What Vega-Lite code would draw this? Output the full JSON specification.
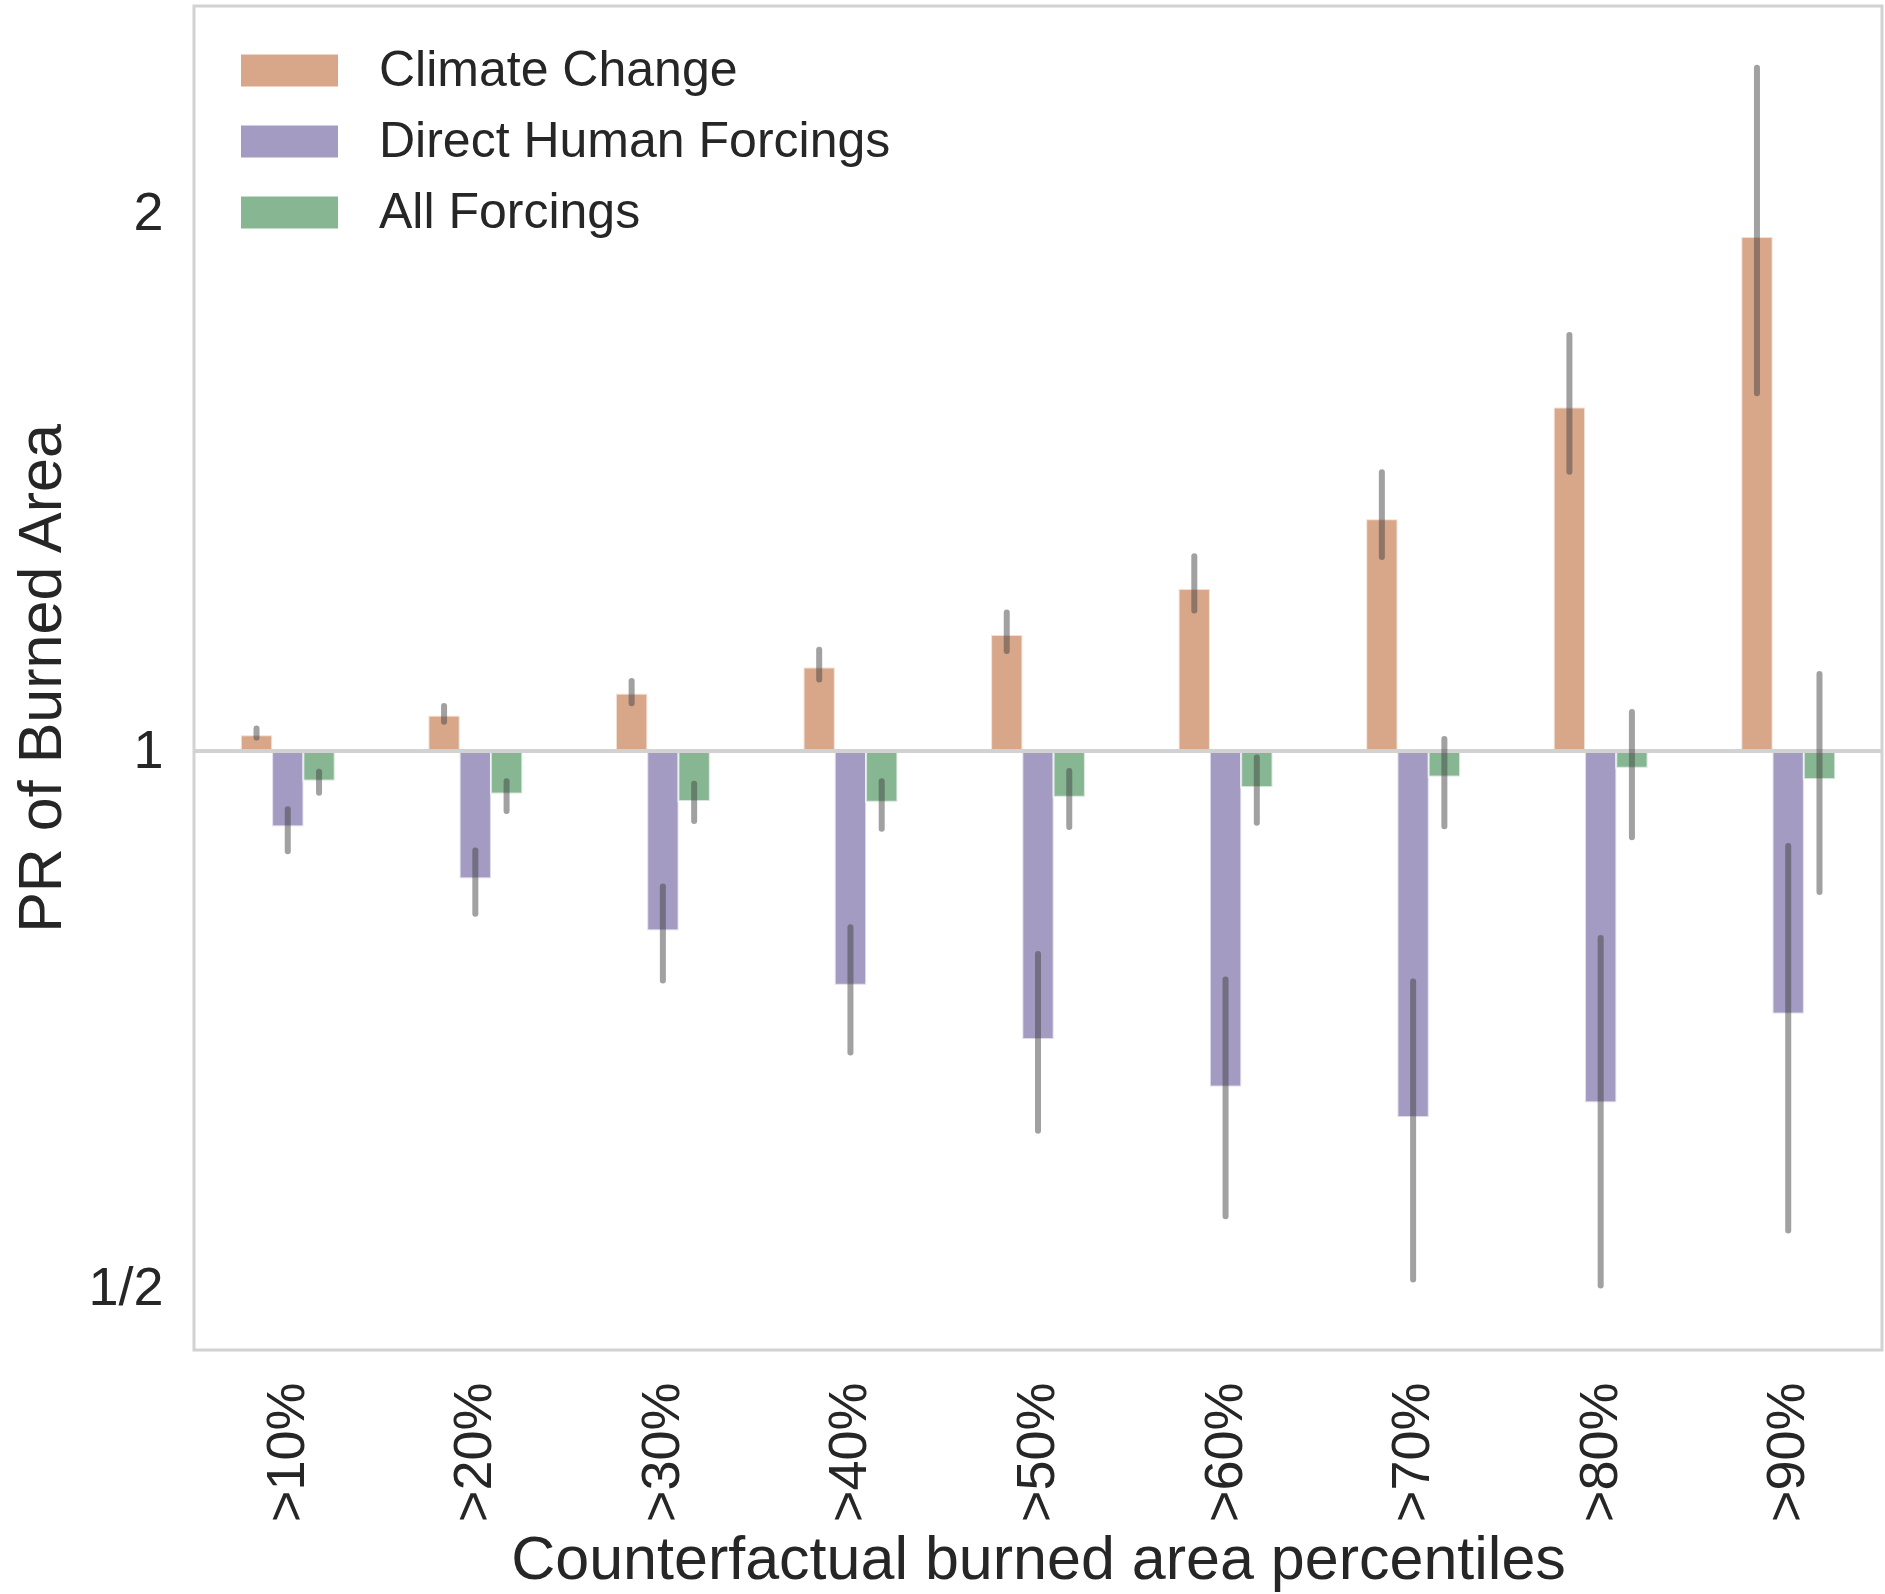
{
  "$schema": "https://vega.github.io/schema/vega-lite/v6.json",
  "width": 1688,
  "height": 1344,
  "autosize": {"type": "none"},
  "padding": {"left": 194, "top": 6, "right": 3, "bottom": 244},
  "background": "white",
  "config": {
    "font": "Liberation Sans",
    "view": {"stroke": "#d2d2d2", "strokeWidth": 3},
    "axis": {
      "labelColor": "#262626",
      "titleColor": "#262626",
      "labelFont": "Liberation Sans",
      "titleFont": "Liberation Sans",
      "titleFontWeight": "normal",
      "domain": false,
      "ticks": false,
      "grid": false
    },
    "legend": {
      "labelFont": "Liberation Sans",
      "labelColor": "#262626",
      "labelFontSize": 50,
      "labelLimit": 1000
    }
  },
  "datasets": {
    "pr": [
      {"percentile": ">10%", "forcing": "Climate Change", "pr": 1.021, "lo": 1.018, "hi": 1.030},
      {"percentile": ">10%", "forcing": "Direct Human Forcings", "pr": 0.908, "lo": 0.879, "hi": 0.928},
      {"percentile": ">10%", "forcing": "All Forcings", "pr": 0.963, "lo": 0.948, "hi": 0.974},
      {"percentile": ">20%", "forcing": "Climate Change", "pr": 1.047, "lo": 1.039, "hi": 1.060},
      {"percentile": ">20%", "forcing": "Direct Human Forcings", "pr": 0.849, "lo": 0.811, "hi": 0.880},
      {"percentile": ">20%", "forcing": "All Forcings", "pr": 0.947, "lo": 0.926, "hi": 0.962},
      {"percentile": ">30%", "forcing": "Climate Change", "pr": 1.077, "lo": 1.064, "hi": 1.095},
      {"percentile": ">30%", "forcing": "Direct Human Forcings", "pr": 0.794, "lo": 0.744, "hi": 0.840},
      {"percentile": ">30%", "forcing": "All Forcings", "pr": 0.938, "lo": 0.914, "hi": 0.959},
      {"percentile": ">40%", "forcing": "Climate Change", "pr": 1.114, "lo": 1.097, "hi": 1.140},
      {"percentile": ">40%", "forcing": "Direct Human Forcings", "pr": 0.740, "lo": 0.678, "hi": 0.797},
      {"percentile": ">40%", "forcing": "All Forcings", "pr": 0.937, "lo": 0.905, "hi": 0.962},
      {"percentile": ">50%", "forcing": "Climate Change", "pr": 1.162, "lo": 1.138, "hi": 1.196},
      {"percentile": ">50%", "forcing": "Direct Human Forcings", "pr": 0.690, "lo": 0.613, "hi": 0.770},
      {"percentile": ">50%", "forcing": "All Forcings", "pr": 0.943, "lo": 0.907, "hi": 0.975},
      {"percentile": ">60%", "forcing": "Climate Change", "pr": 1.233, "lo": 1.199, "hi": 1.286},
      {"percentile": ">60%", "forcing": "Direct Human Forcings", "pr": 0.649, "lo": 0.549, "hi": 0.745},
      {"percentile": ">60%", "forcing": "All Forcings", "pr": 0.955, "lo": 0.912, "hi": 0.992},
      {"percentile": ">70%", "forcing": "Climate Change", "pr": 1.349, "lo": 1.285, "hi": 1.433},
      {"percentile": ">70%", "forcing": "Direct Human Forcings", "pr": 0.624, "lo": 0.506, "hi": 0.743},
      {"percentile": ">70%", "forcing": "All Forcings", "pr": 0.968, "lo": 0.908, "hi": 1.016},
      {"percentile": ">80%", "forcing": "Climate Change", "pr": 1.558, "lo": 1.434, "hi": 1.711},
      {"percentile": ">80%", "forcing": "Direct Human Forcings", "pr": 0.636, "lo": 0.502, "hi": 0.786},
      {"percentile": ">80%", "forcing": "All Forcings", "pr": 0.979, "lo": 0.895, "hi": 1.052},
      {"percentile": ">90%", "forcing": "Climate Change", "pr": 1.941, "lo": 1.587, "hi": 2.415},
      {"percentile": ">90%", "forcing": "Direct Human Forcings", "pr": 0.713, "lo": 0.539, "hi": 0.885},
      {"percentile": ">90%", "forcing": "All Forcings", "pr": 0.965, "lo": 0.834, "hi": 1.105}
    ]
  },
  "data": {"name": "pr"},
  "layer": [
    {
      "mark": {"type": "bar", "stroke": "white", "strokeOpacity": 0.65, "strokeWidth": 2},
      "encoding": {
        "x": {
          "field": "percentile",
          "type": "nominal",
          "sort": null,
          "scale": {"paddingInner": 0.166667, "paddingOuter": 0.083333},
          "axis": {
            "title": "Counterfactual burned area percentiles",
            "labelAngle": -90,
            "labelFontSize": 54,
            "titleFontSize": 61,
            "labelPadding": 32,
            "titlePadding": 9
          }
        },
        "xOffset": {
          "field": "forcing",
          "type": "nominal",
          "sort": ["Climate Change", "Direct Human Forcings", "All Forcings"],
          "scale": {"paddingInner": 0, "paddingOuter": 1}
        },
        "y": {
          "field": "pr",
          "type": "quantitative",
          "scale": {"type": "log", "base": 2, "domain": [0.462, 2.615], "nice": false, "zero": false},
          "axis": {
            "title": "PR of Burned Area",
            "values": [0.5, 1, 2],
            "labelExpr": "datum.value < 0.75 ? '1/2' : format(datum.value, 'd')",
            "labelFontSize": 54,
            "titleFontSize": 61,
            "labelPadding": 31,
            "titlePadding": 14
          }
        },
        "y2": {"datum": 1},
        "color": {
          "field": "forcing",
          "type": "nominal",
          "sort": ["Climate Change", "Direct Human Forcings", "All Forcings"],
          "scale": {
            "domain": ["Climate Change", "Direct Human Forcings", "All Forcings"],
            "range": ["#d8a78a", "#a39bc1", "#87b692"]
          },
          "legend": {
            "title": null,
            "orient": "none",
            "legendX": 49.5,
            "legendY": 18.5,
            "padding": 0,
            "symbolType": "M-1.1,-0.378L1.1,-0.378L1.1,0.378L-1.1,0.378Z",
            "symbolSize": 8100,
            "symbolOpacity": 1,
            "symbolStrokeColor": "#ffffff",
            "symbolStrokeWidth": 2,
            "labelOffset": 43.5,
            "rowPadding": 0
          }
        }
      }
    },
    {
      "mark": {"type": "rule", "color": "#d2d2d2", "strokeWidth": 3.5},
      "encoding": {"y": {"datum": 1}}
    },
    {
      "mark": {"type": "rule", "color": "#444444", "opacity": 0.5, "strokeWidth": 6, "strokeCap": "round"},
      "encoding": {
        "x": {"field": "percentile", "type": "nominal", "sort": null},
        "xOffset": {
          "field": "forcing",
          "type": "nominal",
          "sort": ["Climate Change", "Direct Human Forcings", "All Forcings"],
          "scale": {"paddingInner": 0, "paddingOuter": 1}
        },
        "y": {"field": "lo", "type": "quantitative"},
        "y2": {"field": "hi"}
      }
    }
  ]
}
